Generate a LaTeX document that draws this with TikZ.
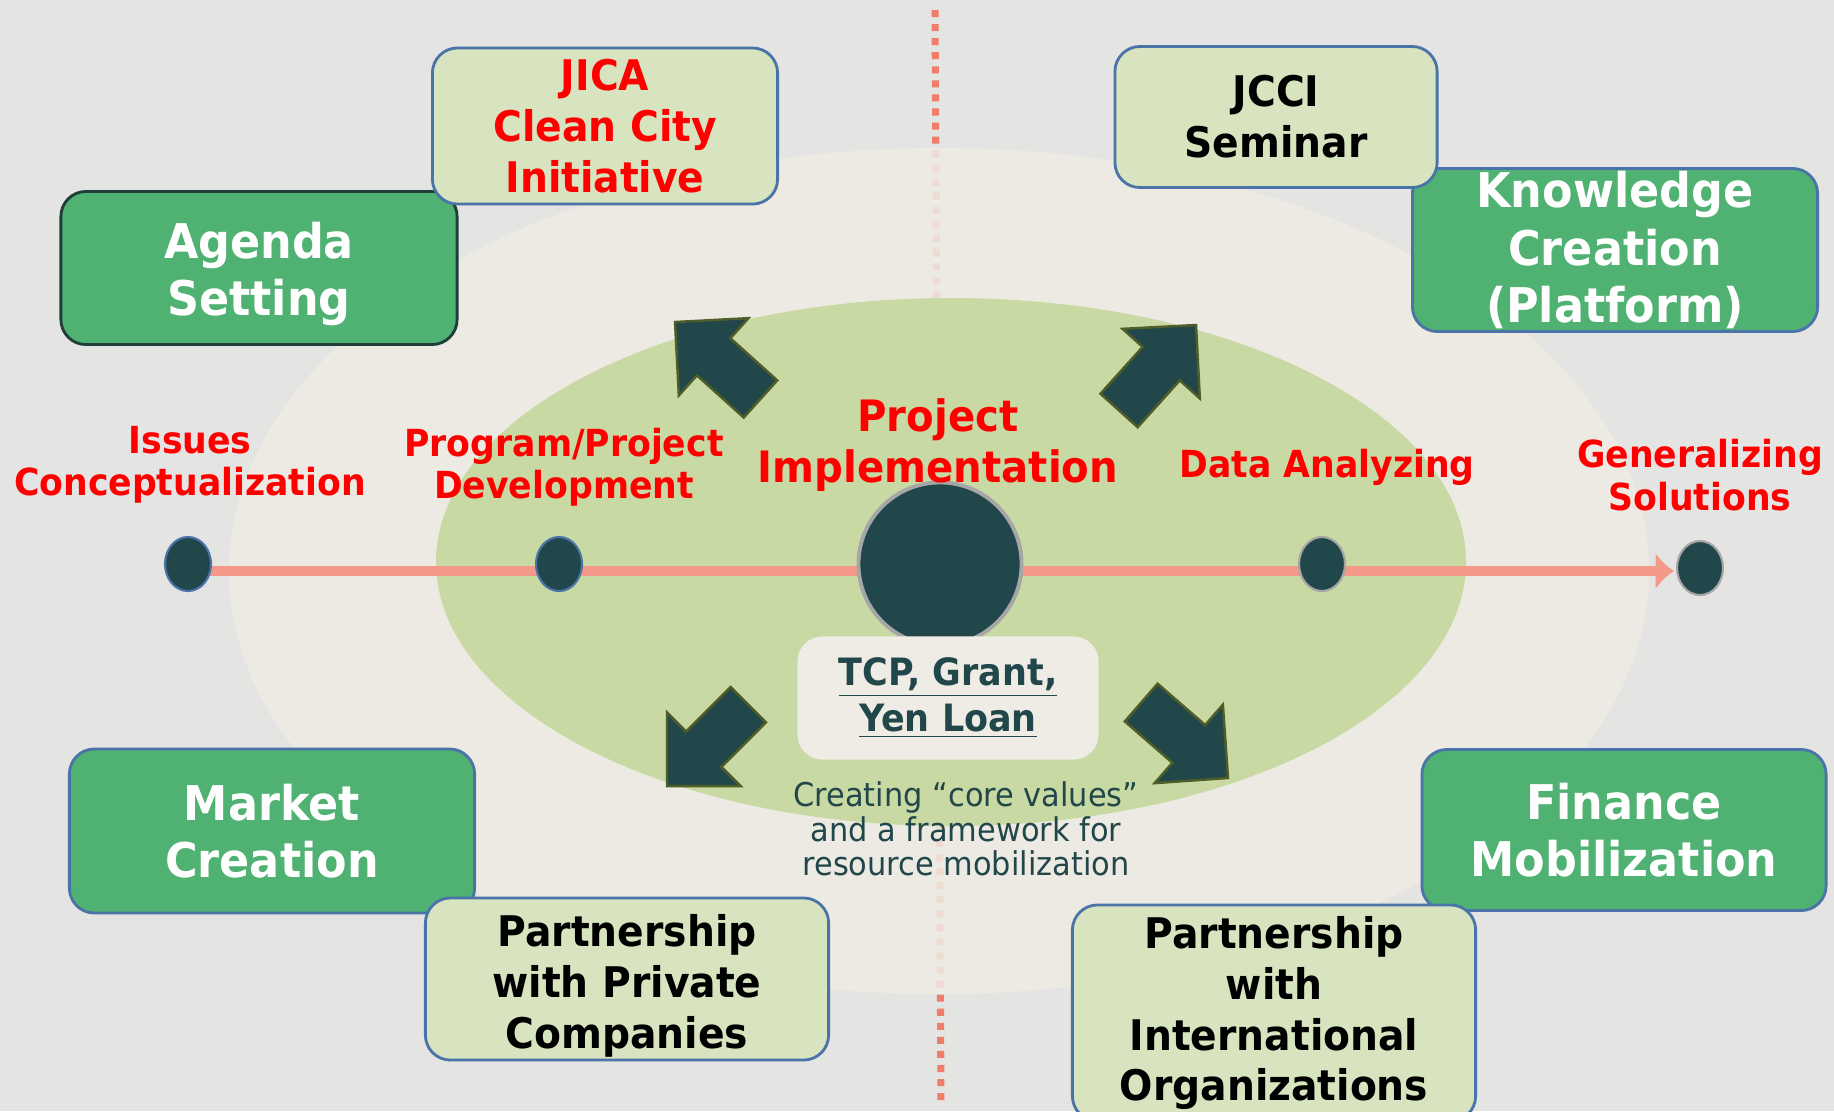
\documentclass[tikz,border=0pt]{standalone}
\usepackage{fontspec}
\setmainfont{DejaVu Sans}[FakeStretch=0.93]
\usetikzlibrary{shapes.geometric,arrows.meta}
\definecolor{bggray}{HTML}{E4E4E2}
\definecolor{creamfill}{HTML}{EEECE4}
\definecolor{softgreen}{HTML}{C9D9A3}
\definecolor{boxgreen}{HTML}{4FB172}
\definecolor{palegreen}{HTML}{D8E4BF}
\definecolor{edgeblue}{HTML}{4A74A8}
\definecolor{agendaedge}{HTML}{1F3D3A}
\definecolor{deepteal}{HTML}{22474A}
\definecolor{arrowedge}{HTML}{4F5E28}
\definecolor{salmon}{HTML}{F4988A}
\definecolor{dotline}{HTML}{F07C6C}
\definecolor{labelred}{HTML}{FF0000}
\begin{document}
\begin{tikzpicture}[x=0.01cm,y=-0.01cm,
	greenbox/.style={draw=edgeblue,line width=0.8pt,fill=boxgreen,rounded corners=0.25cm,
		text=white,align=center,inner sep=0pt,font=\fontsize{13.6}{16.3}\selectfont\bfseries},
	palebox/.style={draw=edgeblue,line width=0.8pt,fill=palegreen,rounded corners=0.25cm,
		align=center,inner sep=0pt,font=\fontsize{12}{14.5}\selectfont\bfseries},
	stagename/.style={text=labelred,align=center,font=\fontsize{10.6}{12}\selectfont\bfseries},
	stagedot/.style={ellipse,fill=deepteal,draw=edgeblue,line width=0.6pt,
		minimum width=0.46cm,minimum height=0.54cm,inner sep=0pt},
	pics/blockarrow/.style={code={
		\filldraw[fill=deepteal,draw=arrowedge,line width=0.7pt]
			(0,0) -- (-52,52) -- (-52,25) -- (-115,25) -- (-115,-25) -- (-52,-25) -- (-52,-52) -- cycle;}}]
	\clip (0,0) rectangle (1834,1111);
	\fill[bggray] (0,0) rectangle (1834,1111);
	\coordinate (divtop) at (935,10);
	\coordinate (divbot) at (941,1106);
	\draw[dotline,line width=2pt,dash pattern=on 2pt off 2pt] (divtop) -- (divbot);
	\fill[creamfill,opacity=0.85] (939,571) ellipse [x radius=710, y radius=423];
	\fill[softgreen] (951,562) ellipse [x radius=515, y radius=264];
	\coordinate (p1) at (188,564);
	\coordinate (p2) at (559,564);
	\coordinate (p3) at (940,564);
	\coordinate (p4) at (1322,564);
	\coordinate (p5) at (1700,568);
	\coordinate (linestart) at (188,571);
	\coordinate (lineend) at (1674,571);
	\draw[salmon,line width=2.85pt,-{Latex[length=5.2pt,width=10.5pt]}] (linestart) -- (lineend);
	\node[stagedot] (issuesdot) at (p1) {};
	\node[stagedot] (developdot) at (p2) {};
	\node[circle,fill=deepteal,draw=gray!70,line width=1.1pt,minimum size=1.63cm,inner sep=0pt] (implementdot) at (p3) {};
	\node[stagedot,draw=gray!70] (analyzedot) at (p4) {};
	\node[stagedot,draw=gray!70] (generaldot) at (p5) {};
	\node[stagename] (issues) at (190,465) {Issues\\Conceptualization};
	\node[stagename] (develop) at (564,467) {Program/Project\\Development};
	\node[stagename,font=\fontsize{12.3}{14.7}\selectfont\bfseries] (implement) at (938,445) {Project\\Implementation};
	\node[stagename] (analyze) at (1327,467) {Data Analyzing};
	\node[stagename] (general) at (1700,475) {Generalizing\\Solutions};
	\pic[rotate=138] at (675,322) {blockarrow};
	\pic[rotate=48] at (1196,325) {blockarrow};
	\pic[rotate=225] at (667,786) {blockarrow};
	\pic[rotate=-41] at (1228,778) {blockarrow};
	\node[greenbox,draw=agendaedge,minimum width=3.96cm,minimum height=1.53cm] (agenda) at (259,268) {\rule{0pt}{13.7pt}Agenda\\Setting};
	\node[greenbox,minimum width=4.05cm,minimum height=1.63cm] (knowledge) at (1615,250) {Knowledge\\Creation\\(Platform)};
	\node[greenbox,minimum width=4.05cm,minimum height=1.64cm] (market) at (272,831) {Market\\Creation};
	\node[greenbox,minimum width=4.04cm,minimum height=1.61cm] (finance) at (1624,830) {Finance\\Mobilization};
	\node[palebox,text=labelred,minimum width=3.45cm,minimum height=1.56cm] (jica) at (605,126) {JICA\\Clean City\\Initiative};
	\node[palebox,minimum width=3.22cm,minimum height=1.41cm] (jcci) at (1276,117) {JCCI\\Seminar};
	\node[palebox,minimum width=4.03cm,minimum height=1.62cm] (private) at (627,979) {\rule{0pt}{13.1pt}Partnership\\with Private\\Companies};
	\node[palebox,minimum width=4.03cm,minimum height=2.16cm] (intl) at (1274,1013) {Partnership\\with\\International\\Organizations};
	\node[fill=creamfill,rounded corners=0.25cm,minimum width=3.01cm,minimum height=1.23cm,inner sep=0pt,
		align=center,text=deepteal,font=\fontsize{10.7}{13}\selectfont\bfseries] (funding) at (948,698) {\underline{TCP, Grant,}\\\underline{Yen Loan}};
	\node[text=deepteal,align=center,font=\fontsize{9.3}{9.8}\selectfont] (corevalues) at (966,829) {Creating “core values”\\and a framework for\\resource mobilization};
\end{tikzpicture}
\end{document}
